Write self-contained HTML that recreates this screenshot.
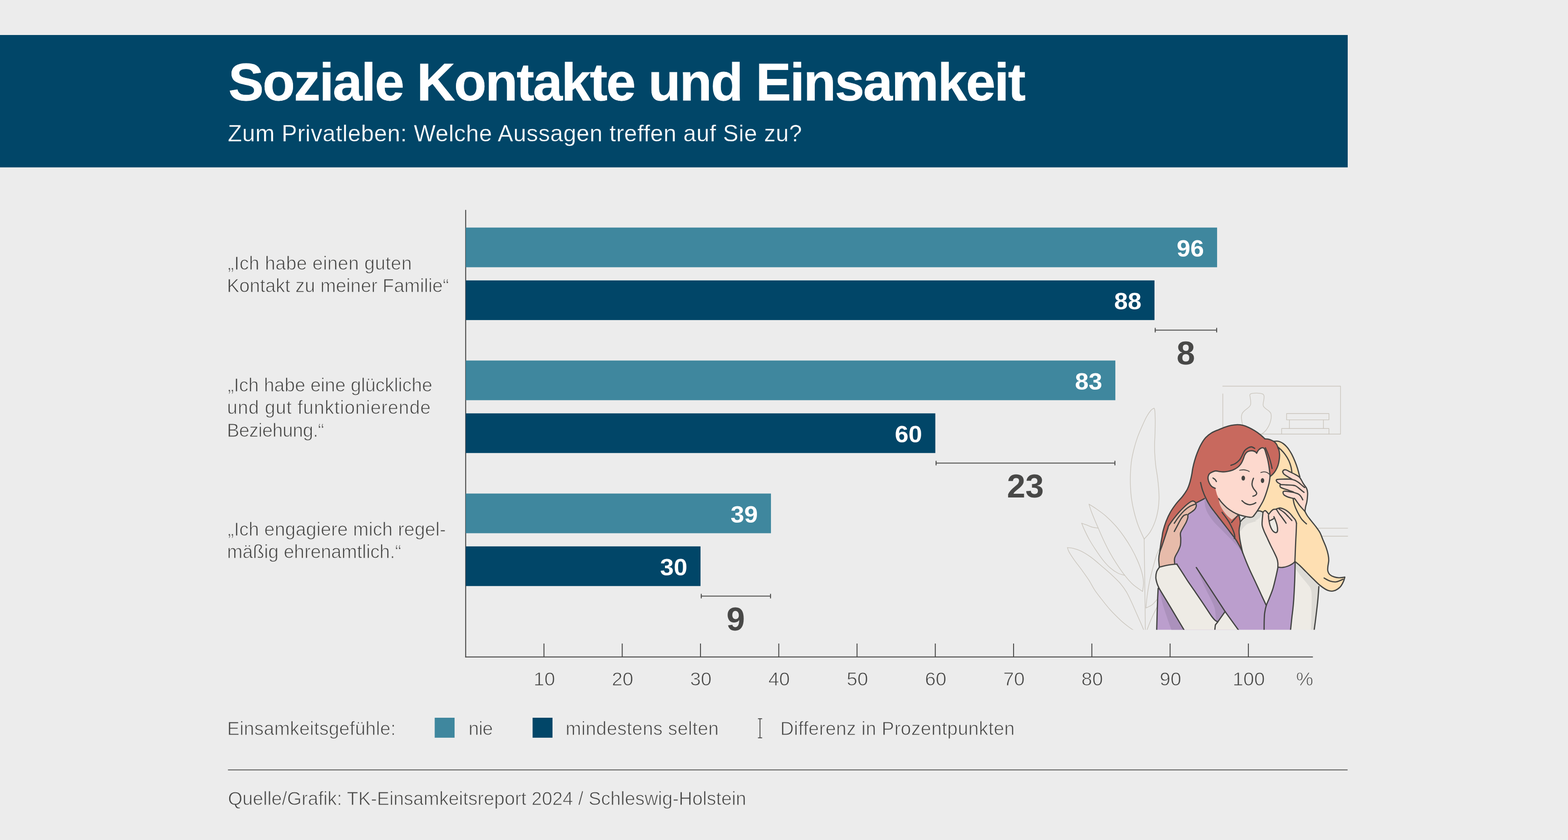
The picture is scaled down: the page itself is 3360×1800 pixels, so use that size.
<!DOCTYPE html>
<html lang="de">
<head>
<meta charset="utf-8">
<title>Soziale Kontakte und Einsamkeit</title>
<style>
html,body{margin:0;padding:0;}
body{width:3360px;height:1800px;background:#ececec;overflow:hidden;position:relative;
 font-family:"Liberation Sans",sans-serif;color:#444443;}
.band{position:absolute;left:0;top:75px;width:2888px;height:283px;}
.band .t{margin-top:-75px;color:#fff;}
.t{position:absolute;white-space:nowrap;margin:0;padding:0;font-weight:400;}
.c{width:200px;text-align:center;}
.title{font-size:113.5px;line-height:113.5px;font-weight:700;-webkit-text-stroke:0.8px #fff;}
.sub{font-size:49.5px;line-height:49.5px;-webkit-text-stroke:0.4px #014668;}
.ax{font-size:41.5px;line-height:41.5px;-webkit-text-stroke:1px #ececec;}
.cat{font-size:40px;line-height:48.15px;-webkit-text-stroke:1px #ececec;}
.cat span{display:block;}
.val{width:200px;text-align:right;font-size:50px;line-height:50px;font-weight:700;color:#fff;transform:scaleX(1.05);transform-origin:100% 50%;}
.big{font-size:71px;line-height:71px;font-weight:700;color:#484847;}
.leg{font-size:40px;line-height:40px;-webkit-text-stroke:1px #ececec;}
svg{position:absolute;left:0;top:0;width:3360px;height:1800px;display:block;}
</style>
</head>
<body>
<svg class="illu" width="3360" height="1800" viewBox="0 0 3360 1800" aria-label="Zwei Frauen umarmen sich"><defs><clipPath id="cl"><rect x="0" y="-200" width="2600" height="2230.1"/></clipPath></defs><g transform="translate(2260 820) scale(0.260870)" clip-path="url(#cl)">
<path d="M1380.1 28.6L2348 28.6L2348 422.8L1687.3 422.8" fill="none" stroke="#c9c4bb" stroke-width="5.2" stroke-linecap="round" stroke-linejoin="round"/>
<path d="M1381.5 92L1381.5 381.3" fill="none" stroke="#c9c4bb" stroke-width="5.2" stroke-linecap="round" stroke-linejoin="round"/>
<path d="M1544.4 350.1C1543.3 344.9 1539.3 328.5 1537.7 318.8C1536.1 309.1 1535 300.2 1534.6 292C1534.2 283.8 1534.2 276.8 1535.5 269.7C1536.7 262.6 1538.5 255.9 1542.2 249.6C1545.9 243.3 1551.5 237.7 1557.8 231.8C1564.1 225.8 1573.1 219.9 1580.1 213.9C1587.2 207.9 1595.4 201.6 1600.2 196C1605 190.5 1607.4 186.7 1609.1 180.4C1610.8 174.1 1610.8 167 1610.5 158.1C1610.1 149.2 1608.1 136.5 1606.9 126.8C1605.7 117.2 1602.6 106 1603.3 100.1C1604.1 94.1 1606.3 93.4 1611.4 91.1C1616.4 88.9 1625.5 87.6 1633.7 86.7C1641.9 85.8 1651.5 85.6 1660.5 85.8C1669.4 85.9 1679.1 86.3 1687.3 87.6C1695.4 88.8 1704.2 90.2 1709.6 93.4C1714.9 96.6 1717.8 100.4 1719.4 106.8C1721 113.1 1720.1 122.8 1719.4 131.3C1718.7 139.9 1716.2 149.9 1714.9 158.1C1713.7 166.3 1711.6 174.1 1711.8 180.4C1712 186.7 1712.6 190.5 1716.3 196C1720 201.6 1727.1 207.9 1734.1 213.9C1741.2 219.9 1752 225.8 1758.7 231.8C1765.4 237.7 1771 243.3 1774.3 249.6C1777.7 255.9 1778.3 261.9 1778.8 269.7C1779.3 277.5 1778.9 286.8 1777.4 296.5C1776 306.2 1773.3 317.3 1769.9 327.7C1766.4 338.2 1762 348.6 1756.5 359C1750.9 369.4 1743.4 381.3 1736.4 390.2C1729.3 399.2 1720.7 407.1 1714 412.6C1707.4 418 1699.2 421.1 1696.2 422.8" fill="none" stroke="#c9c4bb" stroke-width="5.2" stroke-linecap="round" stroke-linejoin="round"/>
<path d="M1905.1 254.1L2252.9 254.1L2252.9 305.4L1905.1 305.4L1905.1 254.1" fill="none" stroke="#c9c4bb" stroke-width="5.2" stroke-linecap="round" stroke-linejoin="round"/>
<path d="M1928.3 305.4L1928.3 376.8" fill="none" stroke="#c9c4bb" stroke-width="5.2" stroke-linecap="round" stroke-linejoin="round"/>
<path d="M2207.4 305.4L2207.4 376.8" fill="none" stroke="#c9c4bb" stroke-width="5.2" stroke-linecap="round" stroke-linejoin="round"/>
<path d="M1864.5 422.8L1864.5 376.8L2252.9 376.8L2252.9 422.8" fill="none" stroke="#c9c4bb" stroke-width="5.2" stroke-linecap="round" stroke-linejoin="round"/>
<path d="M2108.3 1195.5L2407.3 1195.5" fill="none" stroke="#c9c4bb" stroke-width="5.2" stroke-linecap="round" stroke-linejoin="round"/>
<path d="M2158.3 1261L2407.3 1261" fill="none" stroke="#c9c4bb" stroke-width="5.2" stroke-linecap="round" stroke-linejoin="round"/>
<path d="M816 210C811.7 213 800.2 216.3 790 228C779.8 239.7 767.5 257.2 755 280C742.5 302.8 727.5 336.7 715 365C702.5 393.3 690.8 419.2 680 450C669.2 480.8 658.3 516.7 650 550C641.7 583.3 634.7 615 630 650C625.3 685 623.2 725 622 760C620.8 795 621.3 826.7 623 860C624.7 893.3 627.2 926.7 632 960C636.8 993.3 643.2 1025 652 1060C660.8 1095 671.2 1132.5 685 1170C698.8 1207.5 726.7 1265.8 735 1285" fill="none" stroke="#c9c4bb" stroke-width="5.2" stroke-linecap="round" stroke-linejoin="round"/>
<path d="M816 210C817 212.5 820.3 210 822 225C823.7 240 825.5 270.8 826 300C826.5 329.2 825.8 366.7 825 400C824.2 433.3 821.5 470 821 500C820.5 530 820.5 550 822 580C823.5 610 826.2 646.7 830 680C833.8 713.3 840.8 746.7 845 780C849.2 813.3 853 850 855 880C857 910 858.2 931.7 857 960C855.8 988.3 853.3 1020 848 1050C842.7 1080 835.5 1110.8 825 1140C814.5 1169.2 800 1200.8 785 1225C770 1249.2 743.3 1275 735 1285" fill="none" stroke="#c9c4bb" stroke-width="5.2" stroke-linecap="round" stroke-linejoin="round"/>
<path d="M735 1285C735.5 1319.2 736.8 1405.8 738 1490C739.2 1574.2 740.8 1699.2 742 1790C743.2 1880.8 744.5 1994.2 745 2035" fill="none" stroke="#c9c4bb" stroke-width="5.2" stroke-linecap="round" stroke-linejoin="round"/>
<path d="M750 1850C751.7 1833.3 755 1786.7 760 1750C765 1713.3 771.7 1670 780 1630C788.3 1590 800 1546.7 810 1510C820 1473.3 828.3 1440 840 1410C851.7 1380 873.3 1343.3 880 1330" fill="none" stroke="#c9c4bb" stroke-width="5.2" stroke-linecap="round" stroke-linejoin="round"/>
<path d="M750 1850C758.3 1845.8 783.3 1838.3 800 1825C816.7 1811.7 841.7 1779.2 850 1770" fill="none" stroke="#c9c4bb" stroke-width="5.2" stroke-linecap="round" stroke-linejoin="round"/>
<path d="M757 2035C762.5 2020.8 777.8 1978.3 790 1950C802.2 1921.7 818.3 1888.3 830 1865C841.7 1841.7 855 1819.2 860 1810" fill="none" stroke="#c9c4bb" stroke-width="5.2" stroke-linecap="round" stroke-linejoin="round"/>
<path d="M282 998C291.7 1004.2 317 1018.8 340 1035C363 1051.2 393.3 1071.7 420 1095C446.7 1118.3 475 1146.7 500 1175C525 1203.3 548.3 1234.2 570 1265C591.7 1295.8 611.7 1327.5 630 1360C648.3 1392.5 665.8 1427.5 680 1460C694.2 1492.5 706.7 1525 715 1555C723.3 1585 728.8 1613.3 730 1640C731.2 1666.7 723.3 1702.5 722 1715" fill="none" stroke="#c9c4bb" stroke-width="5.2" stroke-linecap="round" stroke-linejoin="round"/>
<path d="M282 998C285 1007.5 292 1033 300 1055C308 1077 320.3 1106.7 330 1130C339.7 1153.3 346.3 1168.3 358 1195C369.7 1221.7 384.7 1257.5 400 1290C415.3 1322.5 431.7 1356.7 450 1390C468.3 1423.3 489.2 1458 510 1490C530.8 1522 553.3 1554.5 575 1582C596.7 1609.5 615.5 1632.8 640 1655C664.5 1677.2 708.3 1705 722 1715" fill="none" stroke="#c9c4bb" stroke-width="5.2" stroke-linecap="round" stroke-linejoin="round"/>
<path d="M222 1155C228.3 1157.2 245.3 1162.7 260 1168C274.7 1173.3 293.7 1182.5 310 1187C326.3 1191.5 350 1193.7 358 1195" fill="none" stroke="#c9c4bb" stroke-width="5.2" stroke-linecap="round" stroke-linejoin="round"/>
<path d="M222 1155C225.8 1164.2 234.5 1187.5 245 1210C255.5 1232.5 270 1263.3 285 1290C300 1316.7 316.7 1342.5 335 1370C353.3 1397.5 375 1430 395 1455C415 1480 434.2 1501.7 455 1520C475.8 1538.3 500 1554.7 520 1565C540 1575.3 565.8 1579.2 575 1582" fill="none" stroke="#c9c4bb" stroke-width="5.2" stroke-linecap="round" stroke-linejoin="round"/>
<path d="M105 1355C112.5 1355.8 130.8 1355 150 1360C169.2 1365 195 1372.5 220 1385C245 1397.5 271.7 1414.2 300 1435C328.3 1455.8 361.7 1485.8 390 1510C418.3 1534.2 445 1556.7 470 1580C495 1603.3 520 1626.7 540 1650C560 1673.3 575 1695 590 1720C605 1745 616.7 1771.7 630 1800C643.3 1828.3 656.7 1860 670 1890C683.3 1920 699.5 1955.8 710 1980C720.5 2004.2 729.2 2025.8 733 2035" fill="none" stroke="#c9c4bb" stroke-width="5.2" stroke-linecap="round" stroke-linejoin="round"/>
<path d="M105 1355C107.2 1360.8 108.8 1373.3 118 1390C127.2 1406.7 143 1430.8 160 1455C177 1479.2 200 1507.5 220 1535C240 1562.5 261.7 1591.7 280 1620C298.3 1648.3 311.7 1677.5 330 1705C348.3 1732.5 368.3 1757.5 390 1785C411.7 1812.5 435 1842.5 460 1870C485 1897.5 516.7 1928.3 540 1950C563.3 1971.7 581.7 1985.8 600 2000C618.3 2014.2 641.7 2029.2 650 2035" fill="none" stroke="#c9c4bb" stroke-width="5.2" stroke-linecap="round" stroke-linejoin="round"/>
<path d="M1789.9 483.1C1795.9 482.6 1815.2 479.9 1825.7 480.4C1836.1 480.9 1843.5 482.6 1852.4 486.2C1861.4 489.8 1870.3 495.1 1879.2 501.8C1888.2 508.5 1898.2 518 1906 526.4C1913.8 534.8 1918.8 541.9 1925.8 552.5C1932.9 563.1 1940.4 574.6 1948.3 590C1956.2 605.4 1965.8 626.7 1973.3 645C1980.8 663.3 1987.7 682.5 1993.3 700C1999 717.5 2003.8 737.9 2007.3 750C2010.8 762.1 2013.2 768.8 2014.3 772.5L2043.3 830L2068.3 910L2055.8 1057.5C2058.7 1062.9 2065.4 1077.9 2073.3 1090C2081.2 1102.1 2091.7 1115 2103.3 1130C2115 1145 2130.8 1163.3 2143.3 1180C2155.8 1196.7 2168.3 1211.7 2178.3 1230C2188.3 1248.3 2195 1270 2203.3 1290C2211.7 1310 2221.2 1330 2228.3 1350C2235.4 1370 2242 1391.7 2245.8 1410C2249.7 1428.3 2251.6 1443.3 2251.3 1460C2251.1 1476.7 2245.7 1495.8 2244.3 1510C2243 1524.2 2241 1534.2 2243.3 1545C2245.7 1555.8 2250 1566.7 2258.3 1575C2266.7 1583.3 2280.8 1590.4 2293.3 1595C2305.8 1599.6 2318.3 1602.1 2333.3 1602.5C2348.3 1602.9 2375 1598.3 2383.3 1597.5L2383.3 1598C2381.3 1604.2 2378 1621.3 2371.3 1635C2364.7 1648.7 2356.3 1667.5 2343.3 1680C2330.3 1692.5 2310 1705.7 2293.3 1710C2276.7 1714.3 2261.7 1713 2243.3 1706C2225 1699 2203.3 1683.7 2183.3 1668C2163.3 1652.3 2143.3 1631.3 2123.3 1612C2103.3 1592.7 2081.7 1570.3 2063.3 1552C2045 1533.7 2028 1515.7 2013.3 1502C1998.7 1488.3 1981.7 1475.3 1975.3 1470L1973.3 1470L1985.8 1155L1678.3 1051L1769.3 770L1783.3 510Z" fill="#fedfb2"/>
<path d="M1789.9 483.1C1795.9 482.6 1815.2 479.9 1825.7 480.4C1836.1 480.9 1843.5 482.6 1852.4 486.2C1861.4 489.8 1870.3 495.1 1879.2 501.8C1888.2 508.5 1898.2 518 1906 526.4C1913.8 534.8 1918.8 541.9 1925.8 552.5C1932.9 563.1 1940.4 574.6 1948.3 590C1956.2 605.4 1965.8 626.7 1973.3 645C1980.8 663.3 1987.7 682.5 1993.3 700C1999 717.5 2003.8 737.9 2007.3 750C2010.8 762.1 2013.2 768.8 2014.3 772.5" fill="none" stroke="#424341" stroke-width="10" stroke-linecap="round" stroke-linejoin="round"/>
<path d="M1818.3 515C1825 520.8 1845.8 537.5 1858.3 550C1870.8 562.5 1882.5 575 1893.3 590C1904.2 605 1915.4 623.3 1923.3 640C1931.2 656.7 1936.7 674.6 1940.8 690C1945 705.4 1947.1 725.4 1948.3 732.5" fill="none" stroke="#424341" stroke-width="10" stroke-linecap="round" stroke-linejoin="round"/>
<path d="M1968.3 1460L2170.3 1675L2170.3 1675C2168.8 1694.2 2165.3 1749.2 2161.3 1790C2157.3 1830.8 2151.3 1879.2 2146.3 1920C2141.3 1960.8 2133.8 2015.8 2131.3 2035L1923.3 2035L1968.3 1460Z" fill="#eeebe5"/>
<path d="M1973.3 1480C1981.7 1486.7 2003.3 1500.8 2023.3 1520C2043.3 1539.2 2070 1571.7 2093.3 1595C2116.7 1618.3 2150.5 1646.7 2163.3 1660C2176.2 1673.3 2169.2 1672.5 2170.3 1675L2170.3 1675C2168.8 1694.2 2165.3 1749.2 2161.3 1790C2157.3 1830.8 2151.3 1879.2 2146.3 1920C2141.3 1960.8 2133.8 2015.8 2131.3 2035L2105.3 2035C2106.3 1994.2 2111.3 1845.8 2111.3 1790C2111.3 1734.2 2111.7 1723.3 2105.3 1700C2099 1676.7 2087 1668.3 2073.3 1650C2059.7 1631.7 2040 1611.7 2023.3 1590C2006.7 1568.3 1981.7 1531.7 1973.3 1520Z" fill="#dddbd6"/>
<path d="M2170.3 1675C2168.8 1694.2 2165.3 1749.2 2161.3 1790C2157.3 1830.8 2151.3 1879.2 2146.3 1920C2141.3 1960.8 2133.8 2015.8 2131.3 2035" fill="none" stroke="#424341" stroke-width="10" stroke-linecap="round" stroke-linejoin="round"/>
<path d="M1533.3 1085L1668.3 1056L1713.3 1062.5L1843.3 1070L1853.3 1520L1738.3 1850L1443.3 1250Z" fill="#eeebe5"/>
<path d="M1517.5 1090L1565 1106L1527.5 1140Z" fill="#e9e9e9"/>
<path d="M1525 1140C1531.7 1134.2 1548.3 1110.4 1565 1105C1581.7 1099.6 1615 1107.1 1625 1107.5L1625.8 1106C1634.2 1097.3 1662.1 1061.2 1675.8 1054C1689.6 1046.8 1702.9 1061.1 1708.3 1062.5L1706.3 1070C1702.5 1076.7 1693 1099.2 1683.3 1110C1673.7 1120.8 1651.4 1130.8 1648.3 1135C1645.3 1139.2 1668.9 1132.9 1665 1135C1661.1 1137.1 1638.3 1143.3 1625 1147.5C1611.7 1151.7 1596.7 1153.8 1585 1160C1573.3 1166.2 1564.2 1175.8 1555 1185C1545.8 1194.2 1536.2 1208.3 1530 1215C1523.8 1221.7 1519.6 1223.3 1517.5 1225Z" fill="#dddbd6"/>
<path d="M1527.5 1140C1530.4 1136.7 1538.8 1125.7 1545 1120C1551.2 1114.3 1561.7 1108.3 1565 1106" fill="none" stroke="#424341" stroke-width="10" stroke-linecap="round" stroke-linejoin="round"/>
<path d="M1664.3 1054C1668.3 1054 1680.3 1052.3 1688.3 1054C1696.3 1055.7 1708.3 1062.3 1712.3 1064" fill="none" stroke="#424341" stroke-width="10" stroke-linecap="round" stroke-linejoin="round"/>
<path d="M864 1385C865.4 1374.2 869.4 1340 872.5 1320C875.6 1300 879.6 1281.7 882.5 1265C885.4 1248.3 884.6 1240.8 890 1220C895.4 1199.2 905 1165.8 915 1140C925 1114.2 935.8 1089.7 950 1065C964.2 1040.3 983.3 1013.7 1000 992C1016.7 970.3 1035 954.5 1050 935C1065 915.5 1080 893.8 1090 875C1100 856.2 1104.2 841.2 1110 822C1115.8 802.8 1120.8 780.3 1125 760C1129.2 739.7 1130.8 720 1135 700C1139.2 680 1144.2 660 1150 640C1155.8 620 1161.7 601.3 1170 580C1178.3 558.7 1188.3 533.3 1200 512C1211.7 490.7 1225 468.7 1240 452C1255 435.3 1271.7 423.2 1290 412C1308.3 400.8 1331.7 392.8 1350 385C1368.3 377.2 1383.3 370.7 1400 365C1416.7 359.3 1433.3 354.3 1450 351C1466.7 347.7 1484.3 345.2 1500 345C1515.7 344.8 1528.8 346.2 1544.4 350.1C1560 353.9 1577.1 360.5 1593.5 367.9C1609.9 375.4 1627 385 1642.6 394.7C1658.2 404.4 1673.1 414.8 1687.3 426C1701.4 437.1 1720.7 455.7 1727.4 461.7L1727.4 461.7C1731.9 462 1745.3 462 1754.2 463.9C1763.2 465.8 1772.1 468.7 1781 472.8C1789.9 476.9 1800.4 482.1 1807.8 488.5C1815.2 494.8 1820.8 501.8 1825.7 510.8C1830.5 519.7 1834.3 536.3 1836.8 542C1839.3 547.7 1839.1 537 1840.8 545C1842.6 553 1846.7 575 1847.3 590C1847.9 605 1846.5 620 1844.3 635C1842.2 650 1839.1 665.8 1834.3 680C1829.6 694.2 1822.7 708.3 1815.8 720C1809 731.7 1801.1 741.5 1793.3 750C1785.6 758.5 1773.3 767.5 1769.3 771L1512.5 1085L1521 1120L1524 1155L1517.5 1190L1515 1220L1519 1270L1527.5 1320L1536 1360L1545 1400L1105 1420L864 1385Z" fill="#c8695e"/>
<path d="M864 1385C865.4 1374.2 869.4 1340 872.5 1320C875.6 1300 879.6 1281.7 882.5 1265C885.4 1248.3 884.6 1240.8 890 1220C895.4 1199.2 905 1165.8 915 1140C925 1114.2 935.8 1089.7 950 1065C964.2 1040.3 983.3 1013.7 1000 992C1016.7 970.3 1035 954.5 1050 935C1065 915.5 1080 893.8 1090 875C1100 856.2 1104.2 841.2 1110 822C1115.8 802.8 1120.8 780.3 1125 760C1129.2 739.7 1130.8 720 1135 700C1139.2 680 1144.2 660 1150 640C1155.8 620 1161.7 601.3 1170 580C1178.3 558.7 1188.3 533.3 1200 512C1211.7 490.7 1225 468.7 1240 452C1255 435.3 1271.7 423.2 1290 412C1308.3 400.8 1331.7 392.8 1350 385C1368.3 377.2 1383.3 370.7 1400 365C1416.7 359.3 1433.3 354.3 1450 351C1466.7 347.7 1484.3 345.2 1500 345C1515.7 344.8 1528.8 346.2 1544.4 350.1C1560 353.9 1577.1 360.5 1593.5 367.9C1609.9 375.4 1627 385 1642.6 394.7C1658.2 404.4 1673.1 414.8 1687.3 426C1701.4 437.1 1720.7 455.7 1727.4 461.7" fill="none" stroke="#424341" stroke-width="10" stroke-linecap="round" stroke-linejoin="round"/>
<path d="M1727.4 461.7C1731.9 462 1745.3 462 1754.2 463.9C1763.2 465.8 1772.1 468.7 1781 472.8C1789.9 476.9 1800.4 482.1 1807.8 488.5C1815.2 494.8 1820.8 501.8 1825.7 510.8C1830.5 519.7 1834.3 536.3 1836.8 542C1839.3 547.7 1839.1 537 1840.8 545C1842.6 553 1846.7 575 1847.3 590C1847.9 605 1846.5 620 1844.3 635C1842.2 650 1839.1 665.8 1834.3 680C1829.6 694.2 1822.7 708.3 1815.8 720C1809 731.7 1801.1 741.5 1793.3 750C1785.6 758.5 1773.3 767.5 1769.3 771" fill="none" stroke="#424341" stroke-width="10" stroke-linecap="round" stroke-linejoin="round"/>
<path d="M1243.3 952C1248.7 961.7 1263.7 991.7 1275.3 1010C1287 1028.3 1299.5 1043.7 1313.3 1062C1327.2 1080.3 1343.3 1100.7 1358.3 1120C1373.3 1139.3 1389.2 1159.7 1403.3 1178C1417.5 1196.3 1430 1212.7 1443.3 1230C1456.7 1247.3 1471.3 1264.5 1483.3 1282C1495.3 1299.5 1506.2 1318.7 1515.3 1335C1524.5 1351.3 1534.5 1372.5 1538.3 1380L1538.3 1380C1544.2 1395 1562.5 1443.3 1573.3 1470C1584.2 1496.7 1592.5 1515.8 1603.3 1540C1614.2 1564.2 1626.7 1590 1638.3 1615C1650 1640 1662.2 1665.8 1673.3 1690C1684.5 1714.2 1694.5 1736.7 1705.3 1760C1716.2 1783.3 1732.8 1818.3 1738.3 1830L1738.3 1830C1742.5 1820 1754.2 1793.3 1763.3 1770C1772.5 1746.7 1784.2 1720 1793.3 1690C1802.5 1660 1811.7 1618.3 1818.3 1590C1825 1561.7 1830.8 1531.7 1833.3 1520L1833.3 1515C1840 1515.4 1859.2 1519 1873.3 1517.5C1887.5 1516 1905 1511 1918.3 1506C1931.7 1501 1944.2 1493.5 1953.3 1487.5C1962.5 1481.5 1970 1472.9 1973.3 1470L1975.3 1476C1975 1493.3 1974.3 1546 1973.3 1580C1972.3 1614 1970.9 1646.7 1969.3 1680C1967.7 1713.3 1965.8 1750.8 1963.8 1780C1961.8 1809.2 1959.9 1830 1957.3 1855C1954.7 1880 1951.7 1900 1948.3 1930C1945 1960 1939.2 2017.5 1937.3 2035L838 2035L842 1890L846 1770L850 1690L860 1470L1055 1070L1162.5 987.5L1230 952.5Z" fill="#bb9ecd"/>
<path d="M1243.3 952C1248.7 961.7 1263.7 991.7 1275.3 1010C1287 1028.3 1299.5 1043.7 1313.3 1062C1327.2 1080.3 1343.3 1100.7 1358.3 1120C1373.3 1139.3 1389.2 1159.7 1403.3 1178C1417.5 1196.3 1430 1212.7 1443.3 1230C1456.7 1247.3 1471.3 1264.5 1483.3 1282C1495.3 1299.5 1506.2 1318.7 1515.3 1335C1524.5 1351.3 1534.5 1372.5 1538.3 1380L1530 1382.5C1525.8 1376.7 1517.5 1362.5 1505 1347.5C1492.5 1332.5 1471.7 1310 1455 1292.5C1438.3 1275 1421.7 1259.2 1405 1242.5C1388.3 1225.8 1371.7 1209.6 1355 1192.5C1338.3 1175.4 1320 1157.9 1305 1140C1290 1122.1 1275.8 1103.3 1265 1085C1254.2 1066.7 1245.7 1049.2 1240 1030C1234.3 1010.8 1232.5 980 1231 970Z" fill="#ab91bc"/>
<path d="M1163.3 1518L1400.3 1880L1373.3 1920C1367.5 1927.5 1346.3 1963.3 1338.3 1965C1330.3 1966.7 1329.5 1949.2 1325.3 1930C1321.2 1910.8 1320.3 1875 1313.3 1850C1306.3 1825 1295 1805 1283.3 1780C1271.7 1755 1256.7 1728.3 1243.3 1700C1230 1671.7 1214.2 1635 1203.3 1610C1192.5 1585 1182.5 1560 1178.3 1550Z" fill="#ab91bc"/>
<path d="M862 1695L1065 2035L960 2035L960 2035C953.3 2015.8 932.5 1957.5 920 1920C907.5 1882.5 894.7 1847.5 885 1810C875.3 1772.5 865.8 1714.2 862 1695Z" fill="#ab91bc"/>
<path d="M1198.3 820C1201.2 830.8 1207.8 863 1215.3 885C1222.8 907 1233.3 931.2 1243.3 952C1253.3 972.8 1263.7 991.7 1275.3 1010C1287 1028.3 1299.5 1043.7 1313.3 1062C1327.2 1080.3 1343.3 1100.7 1358.3 1120C1373.3 1139.3 1389.2 1159.7 1403.3 1178C1417.5 1196.3 1430 1212.7 1443.3 1230C1456.7 1247.3 1471.3 1264.5 1483.3 1282C1495.3 1299.5 1506.2 1318.7 1515.3 1335C1524.5 1351.3 1534.5 1372.5 1538.3 1380" fill="none" stroke="#424341" stroke-width="10" stroke-linecap="round" stroke-linejoin="round"/>
<path d="M1538.3 1380C1544.2 1395 1562.5 1443.3 1573.3 1470C1584.2 1496.7 1592.5 1515.8 1603.3 1540C1614.2 1564.2 1626.7 1590 1638.3 1615C1650 1640 1662.2 1665.8 1673.3 1690C1684.5 1714.2 1694.5 1736.7 1705.3 1760C1716.2 1783.3 1732.8 1818.3 1738.3 1830" fill="none" stroke="#424341" stroke-width="10" stroke-linecap="round" stroke-linejoin="round"/>
<path d="M1833.3 1520C1830.8 1531.7 1825 1561.7 1818.3 1590C1811.7 1618.3 1802.5 1660 1793.3 1690C1784.2 1720 1772.5 1746.7 1763.3 1770C1754.2 1793.3 1744.7 1810 1738.3 1830C1732 1850 1728.2 1870 1725.3 1890C1722.5 1910 1722.2 1925.8 1721.3 1950C1720.5 1974.2 1720.5 2020.8 1720.3 2035" fill="none" stroke="#424341" stroke-width="10" stroke-linecap="round" stroke-linejoin="round"/>
<path d="M1975.3 1476C1975 1493.3 1974.3 1546 1973.3 1580C1972.3 1614 1970.9 1646.7 1969.3 1680C1967.7 1713.3 1965.8 1750.8 1963.8 1780C1961.8 1809.2 1959.9 1830 1957.3 1855C1954.7 1880 1951.7 1900 1948.3 1930C1945 1960 1939.2 2017.5 1937.3 2035" fill="none" stroke="#424341" stroke-width="10" stroke-linecap="round" stroke-linejoin="round"/>
<path d="M838 2035C838.7 2010.8 840.7 1934.2 842 1890C843.3 1845.8 844.7 1803.3 846 1770C847.3 1736.7 849.3 1703.3 850 1690" fill="none" stroke="#424341" stroke-width="10" stroke-linecap="round" stroke-linejoin="round"/>
<path d="M1162.5 987.5L1230 952.5" fill="none" stroke="#424341" stroke-width="10" stroke-linecap="round" stroke-linejoin="round"/>
<path d="M1512.5 1085C1513.9 1090.8 1519.1 1108.3 1521 1120C1522.9 1131.7 1524.6 1143.3 1524 1155C1523.4 1166.7 1519 1179.2 1517.5 1190C1516 1200.8 1514.8 1206.7 1515 1220C1515.2 1233.3 1516.9 1253.3 1519 1270C1521.1 1286.7 1524.7 1305 1527.5 1320C1530.3 1335 1533.1 1346.7 1536 1360C1538.9 1373.3 1543.5 1393.3 1545 1400" fill="none" stroke="#424341" stroke-width="10" stroke-linecap="round" stroke-linejoin="round"/>
<path d="M1375 1065C1380 1071.7 1395 1090.8 1405 1105C1415 1119.2 1425.8 1134.2 1435 1150C1444.2 1165.8 1453.3 1185 1460 1200C1466.7 1215 1471.7 1228.3 1475 1240C1478.3 1251.7 1480 1263.3 1480 1270C1480 1276.7 1475.8 1278.3 1475 1280" fill="none" stroke="#424341" stroke-width="10" stroke-linecap="round" stroke-linejoin="round"/>
<path d="M1163.3 1518L1400.3 1880" fill="none" stroke="#424341" stroke-width="10" stroke-linecap="round" stroke-linejoin="round"/>
<path d="M1347.5 950C1348.8 957.5 1349.6 979.2 1355 995C1360.4 1010.8 1370 1029.2 1380 1045C1390 1060.8 1402.5 1076.7 1415 1090C1427.5 1103.3 1448.3 1119.2 1455 1125L1455 1125L1505 1087.5L1515 1070L1355 940Z" fill="#e9c6ba"/>
<path d="M1452.5 1149C1457.1 1143.8 1471.1 1127.5 1480 1117.5C1488.9 1107.5 1501.7 1093.8 1506 1089" fill="none" stroke="#424341" stroke-width="10" stroke-linecap="round" stroke-linejoin="round"/>
<path d="M1298.3 730C1302.5 729.2 1314.2 725 1323.3 725C1332.5 725 1343.3 728.8 1353.3 730C1363.3 731.2 1373.3 732.5 1383.3 732.5C1393.3 732.5 1400 732.5 1413.3 730C1426.7 727.5 1448.3 723.3 1463.3 717.5C1478.3 711.7 1492.1 703.8 1503.3 695C1514.6 686.2 1523.3 675.8 1530.8 665C1538.3 654.2 1543.3 641.7 1548.3 630C1553.3 618.3 1555.8 604.8 1560.8 595C1565.8 585.2 1571.2 576.7 1578.3 571C1585.4 565.3 1595 562.8 1603.3 561C1611.7 559.2 1620.8 558.9 1628.3 560C1635.8 561.1 1643.2 564.3 1648.3 567.5C1653.5 570.7 1657.5 577.1 1659.3 579L1659.3 579C1661.7 575 1667.7 561.8 1673.3 555C1679 548.2 1687.1 541.8 1693.3 538.5C1699.6 535.2 1705.7 533.8 1710.8 535C1716 536.2 1720.4 539.3 1724.3 546C1728.2 552.7 1730.3 561.8 1734.3 575C1738.3 588.2 1744.3 608.3 1748.3 625C1752.3 641.7 1755.4 657.5 1758.3 675C1761.2 692.5 1764 714 1765.8 730C1767.7 746 1768.7 764.2 1769.3 771L1769.3 771C1768.2 779.2 1765.7 803.5 1762.3 820C1759 836.5 1754.2 853.3 1749.3 870C1744.5 886.7 1739.3 903.3 1733.3 920C1727.3 936.7 1720.8 954.2 1713.3 970C1705.8 985.8 1696.7 1000.8 1688.3 1015C1680 1029.2 1672.3 1041.7 1663.3 1055C1654.3 1068.3 1639.2 1088.3 1634.3 1095L1634.3 1095C1632.5 1096.4 1628.5 1101.8 1623.3 1103.5C1618.2 1105.2 1613.3 1106.3 1603.3 1105.5C1593.3 1104.7 1578.3 1101.9 1563.3 1098.5C1548.3 1095.1 1530 1091.2 1513.3 1085C1496.7 1078.8 1480 1070.8 1463.3 1061C1446.7 1051.2 1428.3 1038.5 1413.3 1026C1398.3 1013.5 1384.2 998.2 1373.3 986C1362.5 973.8 1352.5 958.1 1348.3 952.5L1333.3 920L1319.3 868L1319.3 868C1314.3 865.3 1297.7 859.7 1289.3 852C1281 844.3 1274.3 833.7 1269.3 822C1264.3 810.3 1259 794.3 1259.3 782C1259.7 769.7 1264.8 756.3 1271.3 748C1277.8 739.7 1293.8 734.7 1298.3 732Z" fill="#fdd9ce"/>
<path d="M1319.3 868C1314.3 865.3 1297.7 859.7 1289.3 852C1281 844.3 1274.3 833.7 1269.3 822C1264.3 810.3 1259 794.3 1259.3 782C1259.7 769.7 1264.8 756.3 1271.3 748C1277.8 739.7 1289.7 735.8 1298.3 732C1307 728.2 1314.2 725.3 1323.3 725C1332.5 724.7 1343.3 728.8 1353.3 730C1363.3 731.2 1373.3 732.5 1383.3 732.5C1393.3 732.5 1400 732.5 1413.3 730C1426.7 727.5 1448.3 723.3 1463.3 717.5C1478.3 711.7 1492.1 703.8 1503.3 695C1514.6 686.2 1523.3 675.8 1530.8 665C1538.3 654.2 1543.3 641.7 1548.3 630C1553.3 618.3 1555.8 604.8 1560.8 595C1565.8 585.2 1571.2 576.7 1578.3 571C1585.4 565.3 1595 562.8 1603.3 561C1611.7 559.2 1620.8 558.9 1628.3 560C1635.8 561.1 1643.2 564.3 1648.3 567.5C1653.5 570.7 1657.5 577.1 1659.3 579" fill="none" stroke="#424341" stroke-width="10" stroke-linecap="round" stroke-linejoin="round"/>
<path d="M1659.3 579C1661.7 575 1667.7 561.8 1673.3 555C1679 548.2 1687.1 541.8 1693.3 538.5C1699.6 535.2 1705.7 533.8 1710.8 535C1716 536.2 1720.4 539.3 1724.3 546C1728.2 552.7 1730.3 561.8 1734.3 575C1738.3 588.2 1744.3 608.3 1748.3 625C1752.3 641.7 1755.4 657.5 1758.3 675C1761.2 692.5 1764 714 1765.8 730C1767.7 746 1768.7 764.2 1769.3 771" fill="none" stroke="#424341" stroke-width="10" stroke-linecap="round" stroke-linejoin="round"/>
<path d="M1769.3 771C1768.2 779.2 1765.7 803.5 1762.3 820C1759 836.5 1754.2 853.3 1749.3 870C1744.5 886.7 1739.3 903.3 1733.3 920C1727.3 936.7 1720.8 954.2 1713.3 970C1705.8 985.8 1696.7 1000.8 1688.3 1015C1680 1029.2 1672.3 1041.7 1663.3 1055C1654.3 1068.3 1639.2 1088.3 1634.3 1095" fill="none" stroke="#424341" stroke-width="10" stroke-linecap="round" stroke-linejoin="round"/>
<path d="M1634.3 1095C1632.5 1096.4 1628.5 1101.8 1623.3 1103.5C1618.2 1105.2 1613.3 1106.3 1603.3 1105.5C1593.3 1104.7 1578.3 1101.9 1563.3 1098.5C1548.3 1095.1 1530 1091.2 1513.3 1085C1496.7 1078.8 1480 1070.8 1463.3 1061C1446.7 1051.2 1428.3 1038.5 1413.3 1026C1398.3 1013.5 1384.2 998.2 1373.3 986C1362.5 973.8 1352.5 958.1 1348.3 952.5" fill="none" stroke="#424341" stroke-width="10" stroke-linecap="round" stroke-linejoin="round"/>
<path d="M1300.3 783C1303.2 785 1312.7 790.2 1317.3 795C1322 799.8 1326.5 809.2 1328.3 812" fill="none" stroke="#424341" stroke-width="10" stroke-linecap="round" stroke-linejoin="round"/>
<path d="M1519.3 719C1525 718.5 1542.7 715.4 1553.3 716C1564 716.6 1575.8 720.2 1583.3 722.5C1590.8 724.8 1595.8 728.8 1598.3 730" fill="none" stroke="#424341" stroke-width="7" stroke-linecap="round" stroke-linejoin="round"/>
<path d="M1693.3 738C1697.5 737.1 1710 732.6 1718.3 732.5C1726.7 732.4 1736.2 734.6 1743.3 737.5C1750.4 740.4 1757.9 747.9 1760.8 750" fill="none" stroke="#424341" stroke-width="7" stroke-linecap="round" stroke-linejoin="round"/>
<ellipse cx="1549.3" cy="784.0" rx="14.5" ry="20.5" fill="#424341"/>
<ellipse cx="1707.3" cy="804.0" rx="14" ry="20" fill="#424341"/>
<path d="M1633.3 785C1631.8 789.2 1626.3 800.8 1624.3 810C1622.3 819.2 1619.8 830 1621.3 840C1622.8 850 1628 860.8 1633.3 870C1638.7 879.2 1648.9 888.3 1653.3 895C1657.7 901.7 1660.5 905 1659.8 910C1659.2 915 1654.6 921.2 1649.3 925C1644.1 928.8 1631.8 931.2 1628.3 932.5" fill="none" stroke="#424341" stroke-width="10" stroke-linecap="round" stroke-linejoin="round"/>
<path d="M1538.3 969C1542.5 972.5 1553.3 984.4 1563.3 990C1573.3 995.6 1587.5 1001.2 1598.3 1002.5C1609.2 1003.8 1619.3 1000.8 1628.3 998C1637.3 995.2 1648.3 988 1652.3 986" fill="none" stroke="#424341" stroke-width="10" stroke-linecap="round" stroke-linejoin="round"/>
<path d="M1447.3 679C1453.3 676.7 1471.5 672.3 1483.3 665C1495.2 657.7 1509 645.8 1518.3 635C1527.7 624.2 1532.5 612.5 1539.3 600C1546.2 587.5 1551.2 570.7 1559.3 560C1567.5 549.3 1578.5 541.4 1588.3 536C1598.2 530.6 1609.2 526.8 1618.3 527.5C1627.5 528.2 1639.2 537.9 1643.3 540" fill="none" stroke="#424341" stroke-width="10" stroke-linecap="round" stroke-linejoin="round"/>
<path d="M1730.8 535C1733.7 541.7 1742.5 560 1748.3 575C1754.2 590 1760.8 609.2 1765.8 625C1770.8 640.8 1775 656.7 1778.3 670C1781.7 683.3 1784.6 699.2 1785.8 705" fill="none" stroke="#424341" stroke-width="10" stroke-linecap="round" stroke-linejoin="round"/>
<path d="M2055.8 1057.5C2058.7 1062.9 2065.4 1077.9 2073.3 1090C2081.2 1102.1 2091.7 1115 2103.3 1130C2115 1145 2130.8 1163.3 2143.3 1180C2155.8 1196.7 2168.3 1211.7 2178.3 1230C2188.3 1248.3 2195 1270 2203.3 1290C2211.7 1310 2221.2 1330 2228.3 1350C2235.4 1370 2242 1391.7 2245.8 1410C2249.7 1428.3 2251.6 1443.3 2251.3 1460C2251.1 1476.7 2245.7 1495.8 2244.3 1510C2243 1524.2 2241 1534.2 2243.3 1545C2245.7 1555.8 2250 1566.7 2258.3 1575C2266.7 1583.3 2280.8 1590.4 2293.3 1595C2305.8 1599.6 2318.3 1602.1 2333.3 1602.5C2348.3 1602.9 2375 1598.3 2383.3 1597.5" fill="none" stroke="#424341" stroke-width="10" stroke-linecap="round" stroke-linejoin="round"/>
<path d="M2383.3 1598C2381.3 1604.2 2378 1621.3 2371.3 1635C2364.7 1648.7 2356.3 1667.5 2343.3 1680C2330.3 1692.5 2310 1705.7 2293.3 1710C2276.7 1714.3 2261.7 1713 2243.3 1706C2225 1699 2203.3 1683.7 2183.3 1668C2163.3 1652.3 2143.3 1631.3 2123.3 1612C2103.3 1592.7 2081.7 1570.3 2063.3 1552C2045 1533.7 2028 1515.7 2013.3 1502C1998.7 1488.3 1981.7 1475.3 1975.3 1470" fill="none" stroke="#424341" stroke-width="10" stroke-linecap="round" stroke-linejoin="round"/>
<path d="M2213.3 1605C2221.7 1609.2 2246.7 1624.8 2263.3 1630C2280 1635.2 2295.8 1638.5 2313.3 1636C2330.8 1633.5 2359.2 1618.5 2368.3 1615" fill="none" stroke="#424341" stroke-width="10" stroke-linecap="round" stroke-linejoin="round"/>
<path d="M1958.3 950C1960 958.3 1962.5 981.7 1968.3 1000C1974.2 1018.3 1983.3 1040 1993.3 1060C2003.3 1080 2015.8 1103.3 2028.3 1120C2040.8 1136.7 2061.7 1153.3 2068.3 1160" fill="none" stroke="#424341" stroke-width="10" stroke-linecap="round" stroke-linejoin="round"/>
<path d="M1873.3 732.5C1874.2 730.4 1874.2 722.8 1878.3 720C1882.5 717.2 1889.2 713.9 1898.3 716C1907.5 718.1 1920.8 726.4 1933.3 732.5C1945.8 738.6 1961.7 746.2 1973.3 752.5C1985 758.8 1995.7 764.2 2003.3 770C2011 775.8 2012.7 777.5 2019.3 787.5C2026 797.5 2035.2 816.9 2043.3 830C2051.5 843.1 2062.7 854.3 2068.3 866C2074 877.7 2076 887.7 2077.3 900C2078.7 912.3 2077.3 926.7 2076.3 940C2075.3 953.3 2073.8 966.7 2071.3 980C2068.8 993.3 2063.9 1007.1 2061.3 1020C2058.7 1032.9 2056.7 1051.2 2055.8 1057.5L2055.8 1057.5C2048.7 1049.6 2027.1 1027.1 2013.3 1010C1999.6 992.9 1981.7 964.6 1973.3 955C1965 945.4 1965 952.9 1963.3 952.5L1963.3 952.5C1960.8 951.8 1956.7 950.4 1948.3 948C1940 945.6 1924.2 942.5 1913.3 938C1902.5 933.5 1889.6 927.2 1883.3 921C1877.1 914.8 1877.1 904.3 1875.8 901L1903.3 878L1858.3 861L1850.8 846L1853.3 832.5L1833.3 821L1820.8 806L1828.3 795L1948.3 792.5L1948.3 792.5C1943.3 789.6 1929.2 781.9 1918.3 775C1907.5 768.1 1890.8 758.1 1883.3 751C1875.8 743.9 1875 735.6 1873.3 732.5Z" fill="#fdd9ce"/>
<path d="M1963.3 952.5C1960.8 951.8 1956.7 950.4 1948.3 948C1940 945.6 1924.2 942.5 1913.3 938C1902.5 933.5 1889.6 927.2 1883.3 921C1877.1 914.8 1875.4 906 1875.8 901C1876.2 896 1878.7 892.2 1885.8 891C1892.9 889.8 1907.1 892.5 1918.3 894C1929.6 895.5 1944.2 898.2 1953.3 900C1962.5 901.8 1970 904.2 1973.3 905Z" fill="#fdd9ce"/>
<path d="M1963.3 900C1960.8 898.8 1958.3 896.7 1948.3 893C1938.3 889.3 1918.3 883.3 1903.3 878C1888.3 872.7 1867.1 866.3 1858.3 861C1849.6 855.7 1850.8 849.9 1850.8 846C1850.8 842.1 1849.6 838.5 1858.3 837.5C1867.1 836.5 1887.5 839.2 1903.3 840C1919.2 840.8 1940.8 841.2 1953.3 842.5C1965.8 843.8 1974.2 846.7 1978.3 847.5Z" fill="#fdd9ce"/>
<path d="M1853.3 832.5C1850 830.6 1838.7 825.4 1833.3 821C1827.9 816.6 1821.7 810.3 1820.8 806C1820 801.7 1818.7 797.2 1828.3 795C1837.9 792.8 1861.7 792.9 1878.3 792.5C1895 792.1 1913.3 791.2 1928.3 792.5C1943.3 793.8 1965 800 1968.3 800C1971.7 800 1951.7 793.8 1948.3 792.5Z" fill="#fdd9ce"/>
<path d="M1873.3 732.5C1874.2 730.4 1874.2 722.8 1878.3 720C1882.5 717.2 1889.2 713.9 1898.3 716C1907.5 718.1 1920.8 726.4 1933.3 732.5C1945.8 738.6 1961.7 746.2 1973.3 752.5C1985 758.8 1995.7 764.2 2003.3 770C2011 775.8 2012.7 777.5 2019.3 787.5C2026 797.5 2035.2 816.9 2043.3 830C2051.5 843.1 2062.7 854.3 2068.3 866C2074 877.7 2076 887.7 2077.3 900C2078.7 912.3 2077.3 926.7 2076.3 940C2075.3 953.3 2073.8 966.7 2071.3 980C2068.8 993.3 2063.9 1007.1 2061.3 1020C2058.7 1032.9 2056.7 1051.2 2055.8 1057.5" fill="none" stroke="#424341" stroke-width="10" stroke-linecap="round" stroke-linejoin="round"/>
<path d="M2055.8 1057.5C2048.7 1049.6 2027.1 1027.1 2013.3 1010C1999.6 992.9 1981.7 964.6 1973.3 955C1965 945.4 1965 952.9 1963.3 952.5" fill="none" stroke="#424341" stroke-width="10" stroke-linecap="round" stroke-linejoin="round"/>
<path d="M1948.3 792.5C1943.3 789.6 1929.2 781.9 1918.3 775C1907.5 768.1 1890.8 758.1 1883.3 751C1875.8 743.9 1875 735.6 1873.3 732.5" fill="none" stroke="#424341" stroke-width="10" stroke-linecap="round" stroke-linejoin="round"/>
<path d="M1853.3 832.5C1850 830.6 1838.7 825.4 1833.3 821C1827.9 816.6 1821.7 810.3 1820.8 806C1820 801.7 1818.7 797.2 1828.3 795C1837.9 792.8 1861.7 792.9 1878.3 792.5C1895 792.1 1913.3 791.2 1928.3 792.5C1943.3 793.8 1955.8 795.4 1968.3 800C1980.8 804.6 1992.5 812.5 2003.3 820C2014.2 827.5 2025 838.2 2033.3 845C2041.7 851.8 2050 858.3 2053.3 861" fill="none" stroke="#424341" stroke-width="10" stroke-linecap="round" stroke-linejoin="round"/>
<path d="M1963.3 900C1960.8 898.8 1958.3 896.7 1948.3 893C1938.3 889.3 1918.3 883.3 1903.3 878C1888.3 872.7 1867.1 866.3 1858.3 861C1849.6 855.7 1850.8 849.9 1850.8 846C1850.8 842.1 1849.6 838.5 1858.3 837.5C1867.1 836.5 1887.5 839.2 1903.3 840C1919.2 840.8 1940.8 841.2 1953.3 842.5C1965.8 843.8 1970 843.8 1978.3 847.5C1986.7 851.2 1995 858.8 2003.3 865C2011.7 871.2 2020.8 879 2028.3 885C2035.8 891 2045 898.3 2048.3 901" fill="none" stroke="#424341" stroke-width="10" stroke-linecap="round" stroke-linejoin="round"/>
<path d="M1963.3 952.5C1960.8 951.8 1956.7 950.4 1948.3 948C1940 945.6 1924.2 942.5 1913.3 938C1902.5 933.5 1889.6 927.2 1883.3 921C1877.1 914.8 1875.4 906 1875.8 901C1876.2 896 1878.7 892.2 1885.8 891C1892.9 889.8 1907.1 892.5 1918.3 894C1929.6 895.5 1944.2 898.2 1953.3 900C1962.5 901.8 1965 902.3 1973.3 905C1981.7 907.7 1995 911 2003.3 916C2011.7 921 2017.5 927.2 2023.3 935C2029.2 942.8 2035.8 957.9 2038.3 962.5" fill="none" stroke="#424341" stroke-width="10" stroke-linecap="round" stroke-linejoin="round"/>
<path d="M1833.3 1515C1833.3 1509.2 1834.6 1491.7 1833.3 1480C1832.1 1468.3 1830.8 1459.2 1825.8 1445C1820.8 1430.8 1812.1 1413.3 1803.3 1395C1794.6 1376.7 1783.3 1355.8 1773.3 1335C1763.3 1314.2 1752.5 1290 1743.3 1270C1734.2 1250 1724.8 1231.7 1718.3 1215C1711.8 1198.3 1706.4 1185.8 1704.3 1170C1702.2 1154.2 1704.7 1137.7 1705.8 1120C1707 1102.3 1710.4 1073.3 1711.3 1064L1711.3 1064C1713.7 1061.8 1721.2 1052 1725.8 1051C1730.5 1050 1733.9 1053 1739.3 1058C1744.7 1063 1755.2 1077.2 1758.3 1081L1758.3 1081C1761.7 1076.8 1771.7 1062.7 1778.3 1056C1785 1049.3 1791.7 1043.8 1798.3 1041C1805 1038.2 1810.8 1040.8 1818.3 1039C1825.8 1037.2 1834.2 1030.7 1843.3 1030C1852.5 1029.3 1863.3 1031.7 1873.3 1035C1883.3 1038.3 1893.3 1043.3 1903.3 1050C1913.3 1056.7 1924.2 1065.8 1933.3 1075C1942.5 1084.2 1950.8 1095.8 1958.3 1105C1965.8 1114.2 1973.7 1121.7 1978.3 1130C1983 1138.3 1985 1150.8 1986.3 1155L1986.3 1155C1986 1165.8 1985.5 1192.5 1984.3 1220C1983.2 1247.5 1981 1286.7 1979.3 1320C1977.7 1353.3 1975.3 1395 1974.3 1420C1973.3 1445 1973.5 1461.7 1973.3 1470L1973.3 1470C1970 1472.9 1962.5 1481.5 1953.3 1487.5C1944.2 1493.5 1931.7 1501 1918.3 1506C1905 1511 1887.5 1516 1873.3 1517.5C1859.2 1519 1840 1515.4 1833.3 1515Z" fill="#fdd9ce"/>
<path d="M1760.8 1135C1762.1 1140.8 1764.6 1158.3 1768.3 1170C1772.1 1181.7 1777.5 1195.4 1783.3 1205C1789.2 1214.6 1796.7 1223.3 1803.3 1227.5C1810 1231.7 1818.7 1232.9 1823.3 1230C1828 1227.1 1830.8 1220 1831.3 1210C1831.8 1200 1829.3 1183.3 1826.3 1170C1823.3 1156.7 1817.6 1141.5 1813.3 1130C1809.1 1118.5 1802.9 1105.8 1800.8 1101L1800.8 1110L1768.3 1132.5Z" fill="#eeebe5"/>
<path d="M1833.3 1515C1833.3 1509.2 1834.6 1491.7 1833.3 1480C1832.1 1468.3 1830.8 1459.2 1825.8 1445C1820.8 1430.8 1812.1 1413.3 1803.3 1395C1794.6 1376.7 1783.3 1355.8 1773.3 1335C1763.3 1314.2 1752.5 1290 1743.3 1270C1734.2 1250 1724.8 1231.7 1718.3 1215C1711.8 1198.3 1706.4 1185.8 1704.3 1170C1702.2 1154.2 1704.7 1137.7 1705.8 1120C1707 1102.3 1710.4 1073.3 1711.3 1064" fill="none" stroke="#424341" stroke-width="10" stroke-linecap="round" stroke-linejoin="round"/>
<path d="M1711.3 1064C1713.7 1061.8 1721.2 1052 1725.8 1051C1730.5 1050 1733.9 1053 1739.3 1058C1744.7 1063 1755.2 1077.2 1758.3 1081" fill="none" stroke="#424341" stroke-width="10" stroke-linecap="round" stroke-linejoin="round"/>
<path d="M1758.3 1081C1761.7 1076.8 1771.7 1062.7 1778.3 1056C1785 1049.3 1791.7 1043.8 1798.3 1041C1805 1038.2 1810.8 1040.8 1818.3 1039C1825.8 1037.2 1834.2 1030.7 1843.3 1030C1852.5 1029.3 1863.3 1031.7 1873.3 1035C1883.3 1038.3 1893.3 1043.3 1903.3 1050C1913.3 1056.7 1924.2 1065.8 1933.3 1075C1942.5 1084.2 1950.8 1095.8 1958.3 1105C1965.8 1114.2 1973.7 1121.7 1978.3 1130C1983 1138.3 1985 1150.8 1986.3 1155" fill="none" stroke="#424341" stroke-width="10" stroke-linecap="round" stroke-linejoin="round"/>
<path d="M1833.3 1515C1840 1515.4 1859.2 1519 1873.3 1517.5C1887.5 1516 1905 1511 1918.3 1506C1931.7 1501 1944.2 1493.5 1953.3 1487.5C1962.5 1481.5 1970 1472.9 1973.3 1470" fill="none" stroke="#424341" stroke-width="10" stroke-linecap="round" stroke-linejoin="round"/>
<path d="M1986.3 1155C1986 1165.8 1985.5 1192.5 1984.3 1220C1983.2 1247.5 1980.8 1286.7 1979.3 1320C1977.8 1353.3 1976.3 1395.4 1975.3 1420C1974.3 1444.6 1973.7 1459.6 1973.3 1467.5" fill="none" stroke="#424341" stroke-width="10" stroke-linecap="round" stroke-linejoin="round"/>
<path d="M1760.8 1135C1762.1 1140.8 1764.6 1158.3 1768.3 1170C1772.1 1181.7 1777.5 1195.4 1783.3 1205C1789.2 1214.6 1796.7 1223.3 1803.3 1227.5C1810 1231.7 1818.7 1232.9 1823.3 1230C1828 1227.1 1830.8 1220 1831.3 1210C1831.8 1200 1829.3 1183.3 1826.3 1170C1823.3 1156.7 1817.6 1141.5 1813.3 1130C1809.1 1118.5 1802.9 1105.8 1800.8 1101" fill="none" stroke="#424341" stroke-width="10" stroke-linecap="round" stroke-linejoin="round"/>
<path d="M1755.8 1090C1756.2 1095 1757.1 1112.3 1758.3 1120C1759.6 1127.7 1762.5 1133.3 1763.3 1136" fill="none" stroke="#424341" stroke-width="10" stroke-linecap="round" stroke-linejoin="round"/>
<path d="M1767.3 1134C1771.7 1131.8 1786.9 1124.8 1793.3 1121C1799.7 1117.2 1803.7 1112.7 1805.8 1111" fill="none" stroke="#424341" stroke-width="10" stroke-linecap="round" stroke-linejoin="round"/>
<path d="M1820.8 1040C1824.6 1045.8 1834.6 1062.5 1843.3 1075C1852.1 1087.5 1863.7 1101.8 1873.3 1115C1882.9 1128.2 1896.2 1147.5 1900.8 1154" fill="none" stroke="#424341" stroke-width="10" stroke-linecap="round" stroke-linejoin="round"/>
<path d="M1843.3 1037.5C1850 1042.1 1870.8 1054.6 1883.3 1065C1895.8 1075.4 1907.5 1088.8 1918.3 1100C1929.2 1111.2 1943.3 1127.1 1948.3 1132.5" fill="none" stroke="#424341" stroke-width="10" stroke-linecap="round" stroke-linejoin="round"/>
<path d="M860 1515C859.2 1504.2 854.6 1470 855 1450C855.4 1430 858.3 1412.5 862.5 1395C866.7 1377.5 872.9 1365.8 880 1345C887.1 1324.2 896.7 1295 905 1270C913.3 1245 924.8 1210.7 930 1195C935.2 1179.3 928.5 1188.3 936 1176C943.5 1163.7 961 1139.3 975 1121C989 1102.7 1005 1082.8 1020 1066C1035 1049.2 1050.8 1033.3 1065 1020C1079.2 1006.7 1094.2 993.9 1105 986C1115.8 978.1 1122.5 973.9 1130 972.5C1137.5 971.1 1144.8 973.8 1150 977.5C1155.2 981.2 1158.8 988.8 1161 995C1163.2 1001.2 1164.7 1007.5 1163 1015C1161.3 1022.5 1158 1031.7 1151 1040C1144 1048.3 1130.2 1057.8 1121 1065C1111.8 1072.2 1100.6 1075.5 1096 1083C1091.4 1090.5 1096 1099.7 1093.5 1110C1091 1120.3 1087.2 1131.7 1081 1145C1074.8 1158.3 1063.9 1175 1056 1190C1048.1 1205 1036.9 1220 1033.5 1235C1030.1 1250 1035.6 1263.3 1035.5 1280C1035.4 1296.7 1036.2 1318.3 1033 1335C1029.8 1351.7 1023.8 1362.5 1016 1380C1008.2 1397.5 991 1422.1 986 1440C981 1457.9 986 1479.6 986 1487.5Z" fill="#e7bbaa"/>
<path d="M860 1515C859.2 1504.2 854.6 1470 855 1450C855.4 1430 858.3 1412.5 862.5 1395C866.7 1377.5 872.9 1365.8 880 1345C887.1 1324.2 896.7 1295 905 1270C913.3 1245 924.8 1210.7 930 1195C935.2 1179.3 928.5 1188.3 936 1176C943.5 1163.7 961 1139.3 975 1121C989 1102.7 1005 1082.8 1020 1066C1035 1049.2 1050.8 1033.3 1065 1020C1079.2 1006.7 1094.2 993.9 1105 986C1115.8 978.1 1122.5 973.9 1130 972.5C1137.5 971.1 1144.8 973.8 1150 977.5C1155.2 981.2 1158.8 988.8 1161 995C1163.2 1001.2 1164.7 1007.5 1163 1015C1161.3 1022.5 1158 1031.7 1151 1040C1144 1048.3 1130.2 1057.8 1121 1065C1111.8 1072.2 1100.6 1075.5 1096 1083C1091.4 1090.5 1096 1099.7 1093.5 1110C1091 1120.3 1087.2 1131.7 1081 1145C1074.8 1158.3 1063.9 1175 1056 1190C1048.1 1205 1036.9 1220 1033.5 1235C1030.1 1250 1035.6 1263.3 1035.5 1280C1035.4 1296.7 1036.2 1318.3 1033 1335C1029.8 1351.7 1023.8 1362.5 1016 1380C1008.2 1397.5 991 1422.1 986 1440C981 1457.9 986 1479.6 986 1487.5" fill="none" stroke="#424341" stroke-width="10" stroke-linecap="round" stroke-linejoin="round"/>
<path d="M982.5 1155C988.8 1146 1006.2 1118.3 1020 1101C1033.8 1083.7 1050 1065.2 1065 1051C1080 1036.8 1095 1024.8 1110 1016C1125 1007.2 1147.5 1001 1155 998" fill="none" stroke="#424341" stroke-width="10" stroke-linecap="round" stroke-linejoin="round"/>
<path d="M982.5 1222.5C987.9 1212.2 1005.4 1178.8 1015 1161C1024.6 1143.2 1032.3 1127.7 1040 1116C1047.7 1104.3 1053.5 1096.5 1061 1091C1068.5 1085.5 1081 1084.3 1085 1083" fill="none" stroke="#424341" stroke-width="10" stroke-linecap="round" stroke-linejoin="round"/>
<path d="M860 1515C871.7 1512.2 905.8 1502.7 930 1498.5C954.2 1494.3 992.5 1491.4 1005 1490L1003 1490C1010.8 1502 1033.8 1537 1050 1562C1066.2 1587 1083.3 1615 1100 1640C1116.7 1665 1133.3 1687.8 1150 1712C1166.7 1736.2 1183.3 1760.3 1200 1785C1216.7 1809.7 1235 1837.5 1250 1860C1265 1882.5 1278.7 1904.7 1290 1920C1301.3 1935.3 1309.7 1944.5 1318 1952C1326.3 1959.5 1336.3 1962.8 1340 1965L1320 1990L1315 2035L1065 2035L950 1842L860 1693L860 1693C857 1686.2 846.8 1667.2 842 1652C837.2 1636.8 831.7 1618.7 831 1602C830.3 1585.3 833.2 1566.3 838 1552C842.8 1537.7 856.3 1522 860 1516Z" fill="#eeebe5"/>
<path d="M1400 1880L1512 2035L1315 2035L1320 1990L1340 1965Z" fill="#eeebe5"/>
<path d="M860 1515C871.7 1512.2 905.8 1502.7 930 1498.5C954.2 1494.3 992.5 1491.4 1005 1490" fill="none" stroke="#424341" stroke-width="10" stroke-linecap="round" stroke-linejoin="round"/>
<path d="M1003 1490C1010.8 1502 1033.8 1537 1050 1562C1066.2 1587 1083.3 1615 1100 1640C1116.7 1665 1133.3 1687.8 1150 1712C1166.7 1736.2 1183.3 1760.3 1200 1785C1216.7 1809.7 1235 1837.5 1250 1860C1265 1882.5 1278.7 1904.7 1290 1920C1301.3 1935.3 1309.7 1944.5 1318 1952C1326.3 1959.5 1336.3 1962.8 1340 1965" fill="none" stroke="#424341" stroke-width="10" stroke-linecap="round" stroke-linejoin="round"/>
<path d="M860 1693C857 1686.2 846.8 1667.2 842 1652C837.2 1636.8 831.7 1618.7 831 1602C830.3 1585.3 833.2 1566.3 838 1552C842.8 1537.7 856.3 1522 860 1516" fill="none" stroke="#424341" stroke-width="10" stroke-linecap="round" stroke-linejoin="round"/>
<path d="M1065 2035L950 1842L860 1693" fill="none" stroke="#424341" stroke-width="10" stroke-linecap="round" stroke-linejoin="round"/>
<path d="M1400 1880L1512 2035" fill="none" stroke="#424341" stroke-width="10" stroke-linecap="round" stroke-linejoin="round"/>
<path d="M1400 1880L1340 1965L1320 1990L1315 2035" fill="none" stroke="#424341" stroke-width="10" stroke-linecap="round" stroke-linejoin="round"/>
</g></svg>
<svg class="chart" width="3360" height="1800" viewBox="0 0 3360 1800" aria-hidden="true">
<rect x="0" y="75" width="2887.95" height="283.65" fill="#014668"/>
<rect x="996.85" y="449.8" width="2.05" height="959" fill="#484847"/>
<rect x="996.85" y="1406.75" width="1816.5" height="2.05" fill="#484847"/>
<rect x="1164.62" y="1379" width="2" height="28" fill="#484847"/>
<rect x="1332.34" y="1379" width="2" height="28" fill="#484847"/>
<rect x="1500.06" y="1379" width="2" height="28" fill="#484847"/>
<rect x="1667.78" y="1379" width="2" height="28" fill="#484847"/>
<rect x="1835.5" y="1379" width="2" height="28" fill="#484847"/>
<rect x="2003.22" y="1379" width="2" height="28" fill="#484847"/>
<rect x="2170.94" y="1379" width="2" height="28" fill="#484847"/>
<rect x="2338.66" y="1379" width="2" height="28" fill="#484847"/>
<rect x="2506.38" y="1379" width="2" height="28" fill="#484847"/>
<rect x="2674.1" y="1379" width="2" height="28" fill="#484847"/>
<rect x="998" y="487.65" width="1610.06" height="85" fill="#3f879e"/>
<rect x="998" y="600.85" width="1475.89" height="85" fill="#014668"/>
<rect x="2474.49" y="706.5" width="133.58" height="1.9" fill="#484847"/>
<rect x="2474.49" y="702.55" width="2" height="9.8" fill="#484847"/>
<rect x="2606.16" y="702.55" width="2" height="9.8" fill="#484847"/>
<rect x="998" y="772.55" width="1392.03" height="85" fill="#3f879e"/>
<rect x="998" y="885.75" width="1006.27" height="85" fill="#014668"/>
<rect x="2004.87" y="991.4" width="385.16" height="1.9" fill="#484847"/>
<rect x="2004.87" y="987.45" width="2" height="9.8" fill="#484847"/>
<rect x="2388.13" y="987.45" width="2" height="9.8" fill="#484847"/>
<rect x="998" y="1057.6" width="654.06" height="85" fill="#3f879e"/>
<rect x="998" y="1170.8" width="503.11" height="85" fill="#014668"/>
<rect x="1501.71" y="1276.45" width="150.35" height="1.9" fill="#484847"/>
<rect x="1501.71" y="1272.5" width="2" height="9.8" fill="#484847"/>
<rect x="1650.16" y="1272.5" width="2" height="9.8" fill="#484847"/>
<rect x="931.5" y="1538" width="42.6" height="42.8" fill="#3f879e"/>
<rect x="1141.3" y="1538" width="42.6" height="42.8" fill="#014668"/>
<rect x="1627.6" y="1539.3" width="1.9" height="42.7" fill="#484847"/>
<rect x="1624.2" y="1539.3" width="9" height="1.8" fill="#484847"/>
<rect x="1624.2" y="1580.2" width="9" height="1.8" fill="#484847"/>
<rect x="488.5" y="1648.9" width="2399.2" height="1.7" fill="#484847"/>
</svg>
<main>
<header class="band">
<h1 class="t title" style="left:489.39px;top:119.22px;letter-spacing:-2.341px;">Soziale Kontakte und Einsamkeit</h1>
<p class="t sub" style="left:488.22px;top:261.3px;letter-spacing:0.631px;">Zum Privatleben: Welche Aussagen treffen auf Sie zu?</p>
</header>
<div class="axis">
<span class="t c ax" style="left:1066.42px;top:1433.57px;">10</span>
<span class="t c ax" style="left:1234.14px;top:1433.57px;">20</span>
<span class="t c ax" style="left:1401.86px;top:1433.57px;">30</span>
<span class="t c ax" style="left:1569.58px;top:1433.57px;">40</span>
<span class="t c ax" style="left:1737.3px;top:1433.57px;">50</span>
<span class="t c ax" style="left:1905.02px;top:1433.57px;">60</span>
<span class="t c ax" style="left:2072.74px;top:1433.57px;">70</span>
<span class="t c ax" style="left:2240.46px;top:1433.57px;">80</span>
<span class="t c ax" style="left:2408.18px;top:1433.57px;">90</span>
<span class="t c ax" style="left:2575.9px;top:1433.57px;">100</span>
<span class="t c ax" style="left:2695.6px;top:1433.57px;">%</span>
</div>
<section class="grp">
<p class="t cat" style="left:486px;top:540.26px;"><span style="margin-left:2.04px;letter-spacing:0.37px">„Ich habe einen guten</span><span style="margin-left:0.13px;letter-spacing:0.013px">Kontakt zu meiner Familie“</span></p>
<span class="t val" style="left:2380.06px;top:507.95px;">96</span>
<span class="t val" style="left:2245.89px;top:621.15px;">88</span>
<span class="t c big" style="left:2440.97px;top:720.95px;">8</span>
</section>
<section class="grp">
<p class="t cat" style="left:486px;top:801.26px;"><span style="margin-left:2.04px;letter-spacing:-0.079px">„Ich habe eine glückliche</span><span style="margin-left:0.45px;letter-spacing:0.827px">und gut funktionierende</span><span style="margin-left:0.13px;letter-spacing:-0.493px">Beziehung.“</span></p>
<span class="t val" style="left:2162.03px;top:792.85px;">83</span>
<span class="t val" style="left:1776.27px;top:906.05px;">60</span>
<span class="t c big" style="left:2097.15px;top:1005.85px;">23</span>
</section>
<section class="grp">
<p class="t cat" style="left:486px;top:1110.07px;"><span style="margin-left:2.04px;letter-spacing:0.11px">„Ich engagiere mich regel-</span><span style="margin-left:0.45px;letter-spacing:-0.124px">mäßig ehrenamtlich.“</span></p>
<span class="t val" style="left:1424.06px;top:1077.9px;">39</span>
<span class="t val" style="left:1273.11px;top:1191.1px;">30</span>
<span class="t c big" style="left:1476.58px;top:1290.9px;">9</span>
</section>
<div class="legend">
<span class="t leg" style="left:486.63px;top:1541.14px;letter-spacing:0.198px;">Einsamkeitsgefühle:</span>
<span class="t leg" style="left:1004.05px;top:1541.14px;letter-spacing:-0.571px;">nie</span>
<span class="t leg" style="left:1212.05px;top:1541.14px;letter-spacing:0.352px;">mindestens selten</span>
<span class="t leg" style="left:1671.88px;top:1541.14px;letter-spacing:0.368px;">Differenz in Prozentpunkten</span>
</div>
<footer><span class="t leg" style="left:488.53px;top:1690.74px;letter-spacing:-0.005px;">Quelle/Grafik: TK-Einsamkeitsreport 2024 / Schleswig-Holstein</span></footer>
</main>
</body>
</html>
